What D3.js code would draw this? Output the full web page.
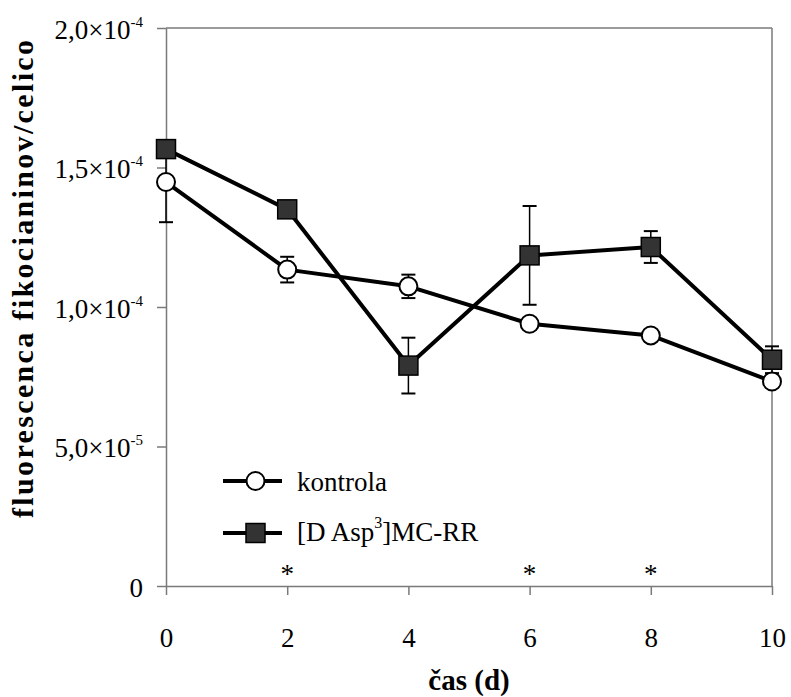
<!DOCTYPE html>
<html>
<head>
<meta charset="utf-8">
<script src="https://cdn.jsdelivr.net/npm/d3@7"></script>
<style>
  html, body { margin: 0; padding: 0; background: #fff; }
  svg { display: block; }
</style>
</head>
<body>
<svg id="chart" width="791" height="697"></svg>
<script>
// ---- data ----
const days = [0, 2, 4, 6, 8, 10];
const kontrola = [1.448e-4, 1.134e-4, 1.074e-4, 0.940e-4, 0.898e-4, 0.733e-4];
const kontrolaErr = [0.144e-4, 0.046e-4, 0.042e-4, 0.02e-4, 0.02e-4, 0.02e-4];
const mcrr = [1.566e-4, 1.350e-4, 0.790e-4, 1.185e-4, 1.215e-4, 0.811e-4];
const mcrrErr = [0.02e-4, 0.02e-4, 0.100e-4, 0.177e-4, 0.057e-4, 0.048e-4];
const sigDays = [2, 6, 8];
const yTickValues = [0, 5e-5, 1e-4, 1.5e-4, 2e-4];
const yTickMantissa = ["0", "5,0×10", "1,0×10", "1,5×10", "2,0×10"];
const yTickExponent = ["", "-5", "-4", "-4", "-4"];
const xTickValues = [0, 2, 4, 6, 8, 10];
const seriesNames = ["kontrola", "[D Asp", "3", "]MC-RR"];

const FONT = '"Liberation Serif"';

// ---- layout ----
const svg = d3.select("#chart");
const L = 166, R = 772, T = 28, B = 586;
const x = d3.scaleLinear().domain([0, 10]).range([L, R]);
const y = d3.scaleLinear().domain([0, 2e-4]).range([B, T]);
const axisColor = "#7a7a7a";

// frame (top & right)
svg.append("line").attr("x1", L).attr("x2", R).attr("y1", T).attr("y2", T)
  .attr("stroke", axisColor).attr("stroke-width", 1.5);
svg.append("line").attr("x1", R).attr("x2", R).attr("y1", T).attr("y2", B)
  .attr("stroke", axisColor).attr("stroke-width", 1.5);

// y axis
const yAxis = svg.append("g").attr("transform", `translate(${L},0)`)
  .call(d3.axisLeft(y).tickValues(yTickValues).tickSize(9).tickSizeOuter(0)
    .tickFormat(() => ""));
yAxis.attr("font-family", null).attr("font-size", null);
yAxis.select(".domain").attr("stroke", axisColor).attr("stroke-width", 1.5);
yAxis.selectAll(".tick line").attr("stroke", axisColor).attr("stroke-width", 1.5);
yAxis.selectAll(".tick text").each(function(d, i) {
  const t = d3.select(this);
  t.attr("dy", 0).attr("y", 10).attr("x", -23).attr("text-anchor", "end")
   .attr("fill", "#000")
   .style("font-size", "27px").style("font-family", FONT);
  t.append("tspan").text(yTickMantissa[i]);
  if (yTickExponent[i]) {
    t.append("tspan").attr("dy", -12).style("font-size", "15px").text(yTickExponent[i]);
  }
});

// x axis
const xAxis = svg.append("g").attr("transform", `translate(0,${B})`)
  .call(d3.axisBottom(x).tickValues(xTickValues).tickSize(9).tickSizeOuter(0).tickFormat(d3.format("d")));
xAxis.attr("font-family", null).attr("font-size", null);
xAxis.select(".domain").attr("stroke", axisColor).attr("stroke-width", 1.5);
xAxis.selectAll(".tick line").attr("stroke", axisColor).attr("stroke-width", 1.5);
xAxis.selectAll(".tick text").attr("y", 61).attr("dy", 0).attr("fill", "#000")
  .style("font-size", "27px").style("font-family", FONT);

// axis titles
svg.append("text").attr("x", (L + R) / 2).attr("y", 690).attr("text-anchor", "middle")
  .style("font-family", FONT).style("font-size", "29px").style("font-weight", "bold").text("čas (d)");
svg.append("text").attr("transform", "translate(33,279) rotate(-90)").attr("text-anchor", "middle")
  .attr("textLength", 478).attr("lengthAdjust", "spacing")
  .style("font-family", FONT).style("font-size", "30px").style("font-weight", "bold")
  .text("fluorescenca fikocianinov/celico");

// significance asterisks
svg.selectAll(".sig").data(sigDays).enter().append("text")
  .attr("x", d => x(d)).attr("y", 583).attr("text-anchor", "middle")
  .style("font-family", FONT).style("font-size", "27px").text("*");

// helpers
const line = d3.line().x((d, i) => x(days[i])).y(d => y(d));

function errorBars(vals, errs) {
  const g = svg.append("g");
  vals.forEach((v, i) => {
    const cx = x(days[i]);
    const yt = y(v + errs[i]), yb = y(v - errs[i]);
    g.append("line").attr("x1", cx).attr("x2", cx).attr("y1", yt).attr("y2", yb)
      .attr("stroke", "#000").attr("stroke-width", 1.5);
    [yt, yb].forEach(yy => g.append("line").attr("x1", cx - 7).attr("x2", cx + 7)
      .attr("y1", yy).attr("y2", yy).attr("stroke", "#000").attr("stroke-width", 2));
  });
}

errorBars(kontrola, kontrolaErr);
errorBars(mcrr, mcrrErr);

// lines
svg.append("path").datum(kontrola).attr("d", line).attr("fill", "none")
  .attr("stroke", "#000").attr("stroke-width", 4).attr("stroke-linejoin", "round");
svg.append("path").datum(mcrr).attr("d", line).attr("fill", "none")
  .attr("stroke", "#000").attr("stroke-width", 4).attr("stroke-linejoin", "round");

// markers
const sq = 19, cr = 9;
svg.selectAll(".circ").data(kontrola).enter().append("circle")
  .attr("cx", (d, i) => x(days[i])).attr("cy", d => y(d)).attr("r", cr)
  .attr("fill", "#fff").attr("stroke", "#000").attr("stroke-width", 2);
svg.selectAll(".sq").data(mcrr).enter().append("rect")
  .attr("x", (d, i) => x(days[i]) - sq / 2).attr("y", d => y(d) - sq / 2)
  .attr("width", sq).attr("height", sq)
  .attr("fill", "#333").attr("stroke", "#000").attr("stroke-width", 1.5);

// legend
const lg = svg.append("g");
const lx1 = 223, lx2 = 282, lmid = (lx1 + lx2) / 2;
lg.append("line").attr("x1", lx1).attr("x2", lx2).attr("y1", 481).attr("y2", 481)
  .attr("stroke", "#000").attr("stroke-width", 4);
lg.append("circle").attr("cx", lmid + 3).attr("cy", 481).attr("r", cr)
  .attr("fill", "#fff").attr("stroke", "#000").attr("stroke-width", 2);
lg.append("text").attr("x", 297).attr("y", 491)
  .style("font-family", FONT).style("font-size", "27px").text(seriesNames[0]);

lg.append("line").attr("x1", lx1).attr("x2", lx2).attr("y1", 533).attr("y2", 533)
  .attr("stroke", "#000").attr("stroke-width", 4);
lg.append("rect").attr("x", lmid + 3 - sq / 2).attr("y", 533 - sq / 2).attr("width", sq).attr("height", sq)
  .attr("fill", "#333").attr("stroke", "#000").attr("stroke-width", 1.5);
const t2 = lg.append("text").attr("x", 297).attr("y", 541)
  .style("font-family", FONT).style("font-size", "27px");
t2.append("tspan").text(seriesNames[1]);
t2.append("tspan").attr("dy", -13).style("font-size", "16px").text(seriesNames[2]);
t2.append("tspan").attr("dy", 13).text(seriesNames[3]);
</script>
</body>
</html>
